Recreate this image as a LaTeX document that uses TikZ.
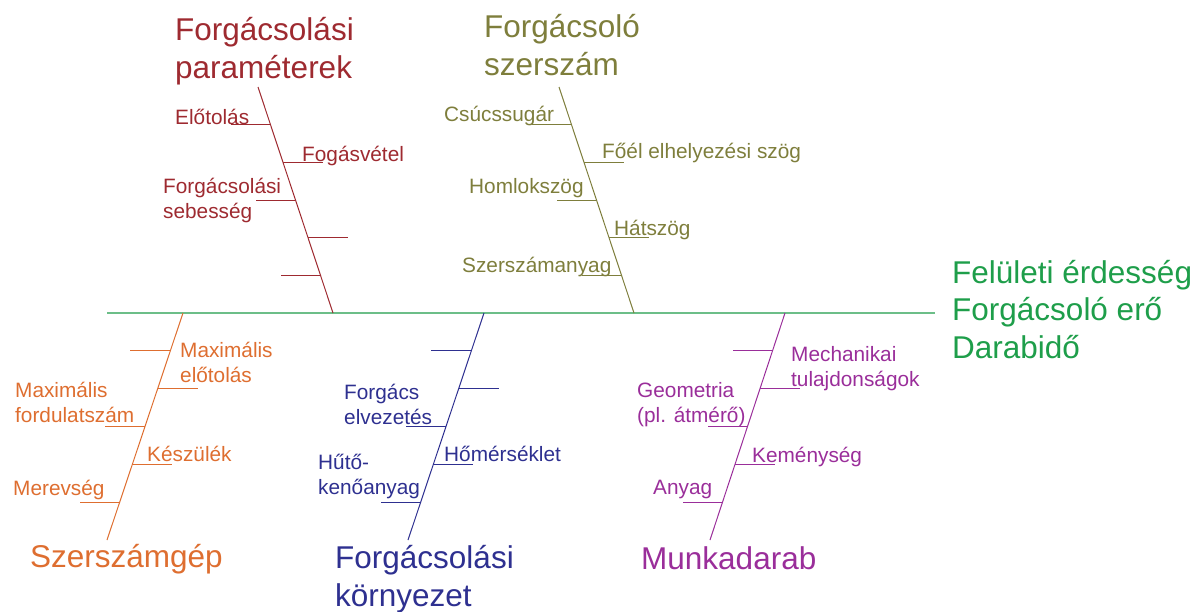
\documentclass[tikz,border=0pt]{standalone}
\usepackage{fontspec}
\setmainfont{Liberation Sans}
\usetikzlibrary{calc}
\definecolor{paramred}{HTML}{9E2A30}
\definecolor{toololive}{HTML}{7E7E3C}
\definecolor{machorange}{HTML}{DE6E30}
\definecolor{envblue}{HTML}{2E3090}
\definecolor{workpurple}{HTML}{9A2E9A}
\definecolor{effgreen}{HTML}{1E9E4A}
\definecolor{spinegreen}{HTML}{6CBE88}

\begin{document}
\begin{tikzpicture}[x=1pt, y=-1pt,
  lbl/.style={anchor=base west, inner sep=0pt, align=left,
    font=\fontsize{20.8}{25}\selectfont},
  head/.style={anchor=base west, inner sep=0pt, align=left,
    font=\fontsize{31.5}{38}\selectfont},
  bone/.style={line width=1pt}
]
\useasboundingbox (0,0) rectangle (1199,611);
% (multi-line nodes sit on the baseline of their last line)

% --- spine and effect ---
\coordinate (spineL) at (107,313);
\coordinate (spineR) at (935,313);
\draw[spinegreen, line width=1.2pt] (spineL) -- (spineR);
\node[head, text=effgreen, font=\fontsize{31.5}{37.5}\selectfont] (effect) at (952,358)
  {Felületi érdesség\\Forgácsoló erő\\Darabidő};

% --- bones with ribs (left, right, left, ...) ---
\foreach \b/\col/\xa/\ya/\xb/\yb in {1/paramred/258/87/333/313,
    2/toololive/559/87/634/313, 3/machorange/183/313/107/540,
    4/envblue/484/313/408/540, 5/workpurple/785/313/710/540} {
  \coordinate (br\b top) at (\xa,\ya);
  \coordinate (br\b bot) at (\xb,\yb);
  \draw[bone, color=\col] (br\b top) -- (br\b bot);
  \foreach \k in {1,...,5} {
    \coordinate (br\b-\k) at ($(br\b top)!\k/6!(br\b bot)$);
    \ifodd\k\relax
      \draw[bone, color=\col] (br\b-\k) -- ++(-40,0);
    \else
      \draw[bone, color=\col] (br\b-\k) -- ++(40,0);
    \fi
  }
}

% --- Forgácsolási paraméterek ---
\node[head, text=paramred] (paramhead) at (175,78) {Forgácsolási\\paraméterek};
\node[lbl, text=paramred] (elotolas) at (175,124) {Előtolás};
\node[lbl, text=paramred] (fogas) at (302,161) {Fogásvétel};
\node[lbl, text=paramred] (sebesseg) at (163,218) {Forgácsolási\\sebesség};

% --- Forgácsoló szerszám ---
\node[head, text=toololive] (toolhead) at (484,75) {Forgácsoló\\szerszám};
\node[lbl, text=toololive] (csucs) at (444,121) {Csúcssugár};
\node[lbl, text=toololive] (foel) at (602,158) {Főél elhelyezési szög};
\node[lbl, text=toololive] (homlok) at (469,193) {Homlokszög};
\node[lbl, text=toololive] (hats) at (614,235) {Hátszög};
\node[lbl, text=toololive] (anyagsz) at (462,272) {Szerszámanyag};

% --- Szerszámgép ---
\node[head, text=machorange] (machhead) at (30,567) {Szerszámgép};
\node[lbl, text=machorange] (maxelo) at (180,382) {Maximális\\előtolás};
\node[lbl, text=machorange] (maxford) at (15,422) {Maximális\\fordulatszám};
\node[lbl, text=machorange] (keszulek) at (147,461) {Készülék};
\node[lbl, text=machorange] (merev) at (13,495) {Merevség};

% --- Forgácsolási környezet ---
\node[head, text=envblue] (envhead) at (335,606) {Forgácsolási\\környezet};
\node[lbl, text=envblue] (elvez) at (344,424) {Forgács\\elvezetés};
\node[lbl, text=envblue] (homers) at (444,461) {Hőmérséklet};
\node[lbl, text=envblue] (huto) at (318,494) {Hűtő-\\kenőanyag};

% --- Munkadarab ---
\node[head, text=workpurple] (workhead) at (641,569) {Munkadarab};
\node[lbl, text=workpurple] (mech) at (791,386) {Mechanikai\\tulajdonságok};
\node[lbl, text=workpurple] (geom) at (637,422) {Geometria\\(pl. átmérő)};
\node[lbl, text=workpurple] (kemeny) at (752,462) {Keménység};
\node[lbl, text=workpurple] (anyagm) at (653,494) {Anyag};
\end{tikzpicture}
\end{document}
